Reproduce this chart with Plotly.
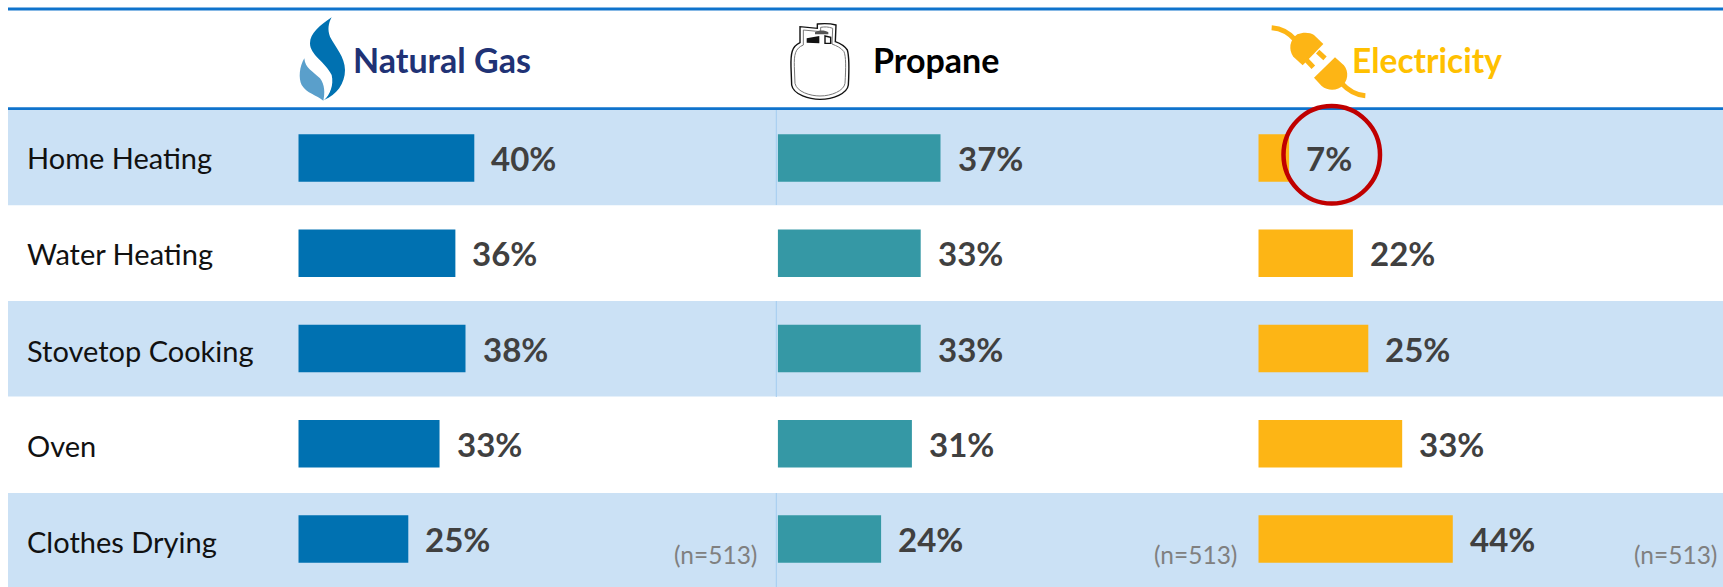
import re
import plotly.graph_objects as go

categories = ["Home Heating", "Water Heating", "Stovetop Cooking", "Oven", "Clothes Drying"]
# bar lengths
natural_gas = [40, 35.7, 38, 32.1, 25]
propane = [37, 32.5, 32.5, 30.5, 23.5]
electricity = [7, 21.5, 25, 32.7, 44.2]
# percentages as printed beside the bars
natural_gas_labels = ["40%", "36%", "38%", "33%", "25%"]
propane_labels = ["37%", "33%", "33%", "31%", "24%"]
electricity_labels = ["7%", "22%", "25%", "33%", "44%"]
series_names = ["Natural Gas", "Propane", "Electricity"]
sample_note = "(n=513)"

OFFSET = 0  # the page margin is removed below, so the figure starts at the page corner
W, H = 1723 - OFFSET, 587 - OFFSET
BLUE, TEAL, AMBER = "#0071B1", "#3598A5", "#FDB515"
BAND, RULE = "#CBE1F5", "#0F73CC"
FONT = "Lato"
PX_PER_PCT = 4.4
ROW0, ROW_STEP = 158.0, 95.25
starts = [298.3, 777.7, 1258.3]
ends = [777.7, 1258.3, 1723.0]
note_right = [759, 1239, 1718.5]
cat_yshift = [1, 0, -2, -2, -2]

def px(x):
    return (x - OFFSET) / W
def py(y):
    return 1 - (y - OFFSET) / H

fig = go.Figure()
columns = zip([natural_gas, propane, electricity],
              [natural_gas_labels, propane_labels, electricity_labels],
              [BLUE, TEAL, AMBER], series_names)
for i, (vals, labels, col, nm) in enumerate(columns):
    sx = "" if i == 0 else str(i + 1)
    fig.add_trace(go.Bar(x=vals, y=categories, orientation="h", name=nm, marker=dict(color=col, line_width=0),
                         xaxis="x" + sx, yaxis="y", hoverinfo="x+y"))
    for v, lab, c in zip(vals, labels, categories):
        fig.add_annotation(x=v, y=c, xref="x" + sx, yref="y", text=f"<b>{lab}</b>", showarrow=False,
                           xanchor="left", xshift=15, yshift=0, font=dict(family=FONT, size=33, color="#404040"))
    fig.add_annotation(x=px(note_right[i]), y=categories[-1], xref="paper", yref="y",
                       text=sample_note, showarrow=False, xanchor="right", yshift=-15,
                       font=dict(family=FONT, size=24.5, color="#808080"))

for c, ys in zip(categories, cat_yshift):
    fig.add_annotation(x=px(25), y=c, xref="paper", yref="y", text=c, showarrow=False, xanchor="left", yshift=ys,
                       font=dict(family=FONT, size=29, color="#111111"))

axis_off = dict(visible=False, fixedrange=True)
row_top = ROW0 - OFFSET
layout = dict(
    width=W, height=H, margin=dict(l=0, r=0, t=0, b=0), autosize=False, showlegend=False,
    paper_bgcolor="white", plot_bgcolor="rgba(0,0,0,0)", barmode="overlay", bargap=0.5,
    yaxis=dict(axis_off, domain=[0, 1], type="category", categoryorder="array", categoryarray=categories,
               range=[(H - row_top) / ROW_STEP, -row_top / ROW_STEP]),
)
for i in range(3):
    key = "xaxis" if i == 0 else f"xaxis{i + 1}"
    layout[key] = dict(axis_off, domain=[px(starts[i]), px(ends[i])],
                       range=[0, (ends[i] - starts[i]) / PX_PER_PCT], anchor="y")
fig.update_layout(**layout)

shapes = []
def rect(x0, y0, x1, y1, fill, layer="below"):
    shapes.append(dict(type="rect", xref="paper", yref="paper", x0=px(x0), y0=py(y0), x1=px(x1), y1=py(y1),
                       fillcolor=fill, line_width=0, layer=layer))
for top in (109.7, 301, 493):
    rect(8, top, 1723, top + 95.5 if top < 493 else 587, BAND)
rect(775.8, 110, 776.8, 205, "#A3CCF0")
rect(775.8, 301, 776.8, 397, "#A3CCF0")
rect(775.8, 493, 776.8, 587, "#A3CCF0")
rect(8, 7.4, 1723, 10.4, RULE)
rect(8, 107.2, 1723, 110, RULE)

def icon(ox, d, fill=None, line=None, lw=0):
    nums = iter(range(10**6))
    def tr(m):
        v = float(m.group())
        return f"{(px(ox + v / 3) if next(nums) % 2 == 0 else py(v / 3)):.5f}"
    path = re.sub(r"-?\d+\.?\d*", tr, d)
    s = dict(type="path", xref="paper", yref="paper", path=path, layer="above",
             line=dict(color=line or "rgba(0,0,0,0)", width=lw))
    if fill:
        s["fillcolor"] = fill
    shapes.append(s)

# flame
icon(270, "M185 52 C150 75 120 100 120 130 C120 165 165 185 185 225 C192 255 180 285 162 300 C200 285 225 250 225 210 C225 170 195 140 180 110 C172 90 175 70 185 52 Z", BLUE)
icon(270, "M103 175 C88 200 85 235 95 255 C110 280 140 285 160 302 C165 280 165 255 150 235 C130 215 105 205 103 175 Z", "#5A9FCB")
# tank
icon(760, "M120 128 C95 140 92 160 93 200 L95 255 C100 285 150 298 180 298 C220 298 262 280 265 255 C268 200 268 170 262 150 C252 135 240 130 226 125 L228 75 C210 70 190 70 172 72 L172 85 L120 80 Z", "white", "#111111", 1.4)
icon(760, "M130 135 C105 145 102 165 103 200 L105 250 C110 275 150 288 180 288 C215 288 252 272 255 250 C258 200 258 170 252 155 C242 142 230 138 216 132 L218 85 C205 80 195 80 182 82 L182 95 L130 90 Z", "white", "#777777", 1)
icon(760, "M140 115 L178 108 L178 130 L140 128 Z", "#111111")
icon(760, "M195 108 L212 112 L212 130 L195 130 Z", "white", "#111111", 1.4)
icon(760, "M165 97 C175 90 195 90 205 97 L205 103 L165 103 Z", "#555555")
# plug
icon(1240, "M95 83 C125 85 150 100 168 122", None, AMBER, 5)
icon(1240, "M172 103 C190 95 210 97 222 105 L250 132 L188 196 L160 170 C145 150 148 120 172 103 Z", AMBER)
icon(1240, "M233 155 L255 175", None, AMBER, 5)
icon(1240, "M197 178 L220 202", None, AMBER, 5)
icon(1240, "M285 172 L222 233 L245 258 C265 275 295 272 310 255 C328 235 325 205 305 190 Z", AMBER)
icon(1240, "M305 250 C325 272 345 285 376 287", None, AMBER, 5)
# highlight ring
shapes.append(dict(type="circle", xref="paper", yref="paper", x0=px(1283.5), x1=px(1380), y0=py(106), y1=py(203.5),
                   layer="above", line=dict(color="#C00000", width=4.5), fillcolor="rgba(0,0,0,0)"))
fig.update_layout(shapes=shapes)

for txt, x, col, size in zip(series_names, [351, 871, 1350], ["#203275", "#000000", "#FFC000"], [34, 34, 33.5]):
    fig.add_annotation(x=px(x), y=py(60), xref="paper", yref="paper", text=f"<b>{txt}</b>", showarrow=False,
                       xanchor="left", yanchor="middle", font=dict(family=FONT, size=size, color=col))

full_bleed = "document.documentElement.style.overflow='hidden';document.body.style.margin='0';"
fig.write_html("out.html", config=dict(displayModeBar=False), default_width=f"{W}px", default_height=f"{H}px",
               post_script=full_bleed)
